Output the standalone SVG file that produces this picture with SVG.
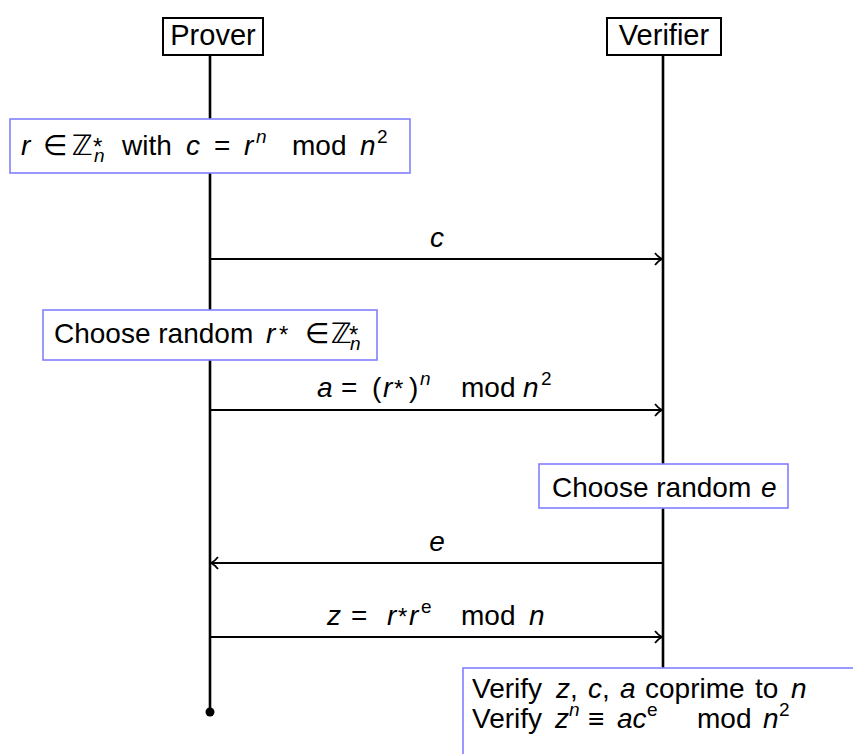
<svg xmlns="http://www.w3.org/2000/svg" width="853" height="754" viewBox="0 0 853 754">
<style>
text{font-family:"Liberation Sans","DejaVu Sans",sans-serif;font-size:28px;fill:#000}
.i{font-style:italic}
.s{font-size:19px}
.st{font-size:24px}
.actor{fill:#fff;stroke:#000;stroke-width:2}
.actor-label{font-size:29px}
.note{fill:#fff;stroke:#8080ff;stroke-width:1.6}
.life{stroke:#000;stroke-width:2.6;fill:none}
.msg{stroke:#000;stroke-width:2.2;fill:none;marker-end:url(#ah)}
</style>
<defs>
<marker id="ah" markerWidth="12" markerHeight="14" refX="10" refY="7" orient="auto" markerUnits="userSpaceOnUse">
<path d="M3,1 Q6,5 10,7 Q6,9 3,13" fill="none" stroke="#000" stroke-width="1.8"/>
</marker>
</defs>
<g id="lifelines">
<line class="life" x1="210" y1="55" x2="210" y2="712"/>
<circle cx="210" cy="712" r="4.5" fill="#000"/>
<line class="life" x1="663" y1="55" x2="663" y2="668"/>
</g>
<g id="prover">
<rect class="actor" x="163" y="18" width="100" height="37"/>
<text class="actor-label" x="213" y="45" text-anchor="middle">Prover</text>
</g>
<g id="verifier">
<rect class="actor" x="607" y="18" width="114" height="37"/>
<text class="actor-label" x="664" y="45" text-anchor="middle">Verifier</text>
</g>
<g id="connectors">
<line class="msg" x1="210" y1="259" x2="662" y2="259"/>
<line class="msg" x1="210" y1="410" x2="662" y2="410"/>
<line class="msg" x1="663" y1="563" x2="211" y2="563"/>
<line class="msg" x1="210" y1="637" x2="662" y2="637"/>
<text x="437" y="247" text-anchor="middle" class="i">c</text>
<text y="397"><tspan class="i" x="317">a</tspan><tspan x="341">=</tspan><tspan x="372">(</tspan><tspan class="i" x="383">r</tspan><tspan class="st" x="394">*</tspan><tspan x="409">)</tspan><tspan class="s i" x="420" dy="-12">n</tspan><tspan x="461" dy="12">mod</tspan><tspan class="i" x="523">n</tspan><tspan class="s" x="541" dy="-12">2</tspan></text>
<text x="437" y="551" text-anchor="middle" class="i">e</text>
<text y="625"><tspan class="i" x="327">z</tspan><tspan x="351">=</tspan><tspan class="i" x="387">r</tspan><tspan class="st" x="398">*</tspan><tspan class="i" x="409">r</tspan><tspan class="s" x="421" dy="-12">e</tspan><tspan x="461" dy="12">mod</tspan><tspan class="i" x="529">n</tspan></text>
</g>
<g id="note1">
<rect class="note" x="10" y="119" width="400" height="54"/>
<text y="155"><tspan class="i" x="21">r</tspan><tspan x="43">∈</tspan><tspan x="72">ℤ</tspan><tspan class="st" x="93">*</tspan><tspan class="s i" x="94" dy="7">n</tspan><tspan x="122" dy="-7">with</tspan><tspan class="i" x="186">c</tspan><tspan x="214">=</tspan><tspan class="i" x="244">r</tspan><tspan class="s i" x="256" dy="-12">n</tspan><tspan x="292" dy="12">mod</tspan><tspan class="i" x="360">n</tspan><tspan class="s" x="377" dy="-12">2</tspan></text>
</g>
<g id="note2">
<rect class="note" x="43" y="310" width="334" height="50"/>
<text y="343"><tspan x="54">Choose random</tspan><tspan class="i" x="266">r</tspan><tspan class="st" x="279">*</tspan><tspan x="305">∈</tspan><tspan x="331">ℤ</tspan><tspan class="st" x="349">*</tspan><tspan class="s i" x="350" dy="7">n</tspan></text>
</g>
<g id="note3">
<rect class="note" x="539" y="464" width="249" height="44"/>
<text y="497"><tspan x="552">Choose random</tspan><tspan class="i" x="761">e</tspan></text>
</g>
<g id="note4">
<rect class="note" x="463" y="668" width="400" height="100"/>
<text y="698"><tspan x="472">Verify</tspan><tspan class="i" x="556">z</tspan><tspan x="570">,</tspan><tspan class="i" x="588">c</tspan><tspan x="602">,</tspan><tspan class="i" x="620">a</tspan><tspan x="645">coprime</tspan><tspan x="755">to</tspan><tspan class="i" x="791">n</tspan></text>
<text y="728"><tspan x="472">Verify</tspan><tspan class="i" x="555">z</tspan><tspan class="s i" x="569" dy="-12">n</tspan><tspan x="588" dy="12">≡</tspan><tspan class="i" x="617">ac</tspan><tspan class="s" x="647" dy="-12">e</tspan><tspan x="697" dy="12">mod</tspan><tspan class="i" x="763">n</tspan><tspan class="s" x="779" dy="-12">2</tspan></text>
</g>
</svg>
